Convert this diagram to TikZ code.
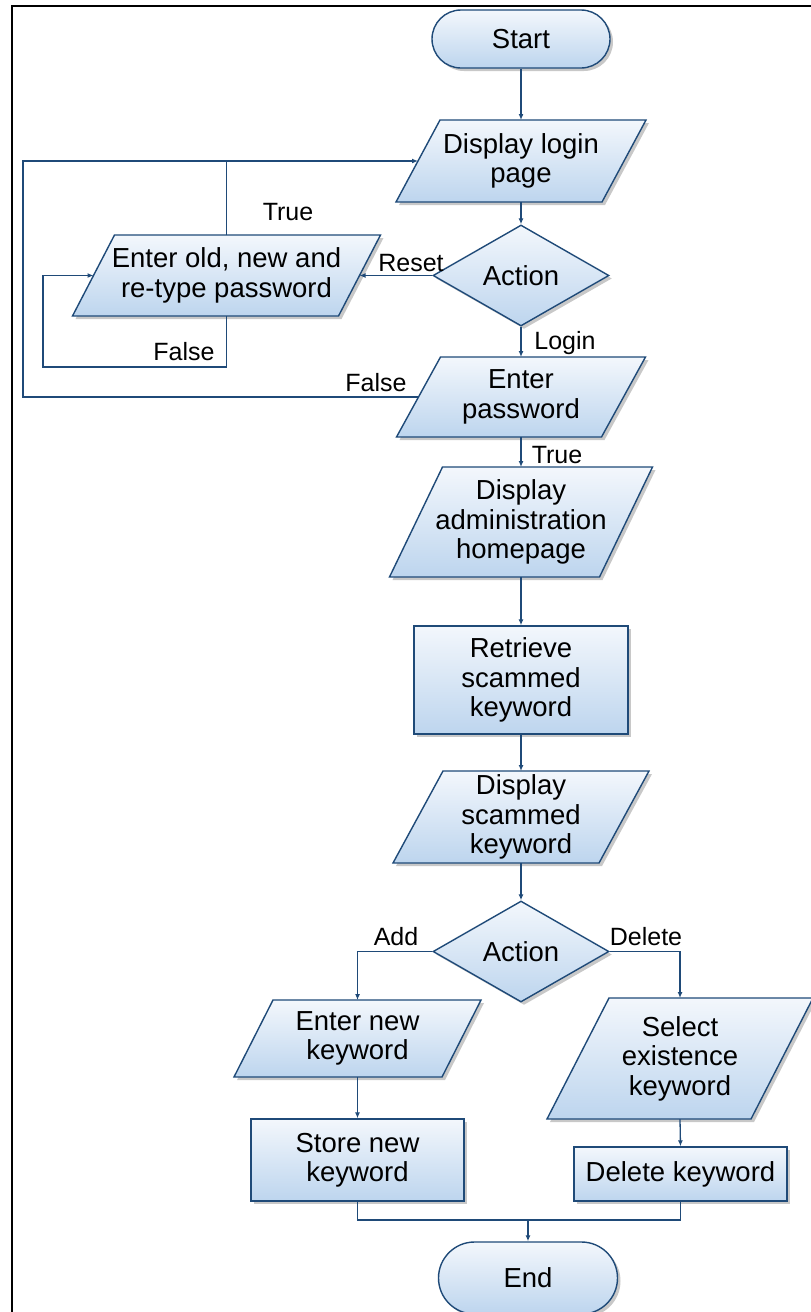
\documentclass[tikz,border=0pt]{standalone}
\usepackage{fontspec}
\setmainfont{Liberation Sans}
\usetikzlibrary{shapes.geometric,arrows.meta,shadows,calc}
\definecolor{edge}{HTML}{1F4A78}
\definecolor{ftop}{HTML}{F3F7FC}
\definecolor{fbot}{HTML}{BDD5EE}
\definecolor{shd}{HTML}{C8C8C8}
\newcommand\mainfs{\fontsize{27.5}{29.5}\selectfont}
\newcommand\labfs{\fontsize{25}{28}\selectfont}
\tikzset{
  boxfill/.style={top color=ftop,bottom color=fbot,draw=edge,line width=1.4pt},
  shadowed/.style={drop shadow={shadow xshift=3pt,shadow yshift=-3pt,fill=shd,opacity=1}},
  term/.style={boxfill,shadowed,rectangle,rounded corners=#1,inner sep=0pt,font=\mainfs,minimum width=178pt},
  dia/.style={boxfill,shadowed,diamond,aspect=1.75,inner sep=0pt,minimum width=176pt,minimum height=101pt,font=\mainfs},
  proc/.style={boxfill,shadowed,rectangle,inner sep=0pt,align=center,font=\mainfs},
  txt/.style={align=center,font=\mainfs,inner sep=0pt},
  lab/.style={font=\labfs,inner sep=0pt},
  conn/.style={draw=edge,line width=1.3pt},
  arr/.style={conn,-{Latex[length=6pt,width=5pt]}}
}
% name, cx, cy, width, height, slant, text
\newcommand\para[7]{%
  \fill[shd,xshift=3pt,yshift=-3pt] ({#2-#4/2+#6/2},{#3-#5/2}) -- ({#2+#4/2+#6/2},{#3-#5/2}) -- ({#2+#4/2-#6/2},{#3+#5/2}) -- ({#2-#4/2-#6/2},{#3+#5/2}) -- cycle;
  \path[boxfill] ({#2-#4/2+#6/2},{#3-#5/2}) -- ({#2+#4/2+#6/2},{#3-#5/2}) -- ({#2+#4/2-#6/2},{#3+#5/2}) -- ({#2-#4/2-#6/2},{#3+#5/2}) -- cycle;
  \node[txt] (#1) at (#2,#3) {#7};
  \coordinate (#1-t) at (#2,{#3-#5/2});
  \coordinate (#1-b) at (#2,{#3+#5/2});
  \coordinate (#1-l) at ({#2-#4/2},#3);
  \coordinate (#1-r) at ({#2+#4/2},#3);
}
\begin{document}
\begin{tikzpicture}[x=1pt,y=-1pt]
\useasboundingbox (0,0) rectangle (811,1312);
\fill[white] (0,0) rectangle (811,1312);
\draw[line width=2.5pt] (12,1315) -- (12,6) -- (815,6);

% nodes
\node[term=29pt,minimum height=58pt] (start) at (521,39) {Start};
\para{dl}{521}{161}{206}{82}{44}{Display login\\page}
\node[dia] (a1) at (521,275.5) {Action};
\para{eo}{226.5}{275.5}{266}{81}{42}{Enter old, new and\\re-type password}
\para{ep}{521}{397}{205}{80}{44}{Enter\\password}
\para{da}{521}{522}{210}{110}{53}{Display\\administration\\homepage}
\node[proc,minimum width=214pt,minimum height=108pt] (rt) at (521,680) {Retrieve\\scammed\\keyword};
\para{ds}{521}{817}{206}{92}{50}{Display\\scammed\\keyword}
\node[dia] (a2) at (521,951.5) {Action};
\para{en}{357.5}{1038.5}{208}{77}{39}{Enter new\\keyword}
\para{sl}{680}{1058.5}{204}{121}{62}{Select\\existence\\keyword}
\node[proc,minimum width=213pt,minimum height=82pt] (st) at (357.5,1160) {Store new\\keyword};
\node[proc,minimum width=213pt,minimum height=54pt] (dk) at (680.5,1174) {Delete keyword};
\node[term=36pt,minimum height=72pt,minimum width=179pt] (end) at (528,1278) {End};

% coordinates for bends
\coordinate (lf) at (23,397);
\coordinate (lf2) at (43,367);
\coordinate (j) at (528,1220);

% connectors
\draw[arr] (start.south) -- (dl-t);
\draw[arr] (dl-b) -- (a1.north);
\draw[arr] (a1.west) -- (eo-r);
\draw[arr] (a1.south) -- (ep-t);
\draw[arr] (ep-l) -- (lf) |- (dl-l);
\draw[conn] (eo-t) -- (eo-t |- dl-l);
\draw[arr] (eo-b) |- (lf2) |- (eo-l);
\draw[arr] (ep-b) -- (da-t);
\draw[arr] (da-b) -- (rt.north);
\draw[arr] (rt.south) -- (ds-t);
\draw[arr] (ds-b) -- (a2.north);
\draw[arr] (a2.west) -| (en-t);
\draw[arr] (a2.east) -| (sl-t);
\draw[arr] (en-b) -- (st.north);
\draw[arr] (sl-b) -- (dk.north);
\draw[conn] (st.south) |- (j) -| (dk.south);
\draw[arr] (j) -- (end.north);

% labels
\node[lab] (lreset) at (411,263) {Reset};
\node[lab] (llogin) at (565,343) {Login};
\node[lab] (lfalse1) at (376,383) {False};
\node[lab] (ltrue1) at (288,212) {True};
\node[lab] (lfalse2) at (184,352) {False};
\node[lab] (ltrue2) at (557,455) {True};
\node[lab] (ladd) at (396,937) {Add};
\node[lab] (ldel) at (646,937) {Delete};
\end{tikzpicture}
\end{document}
